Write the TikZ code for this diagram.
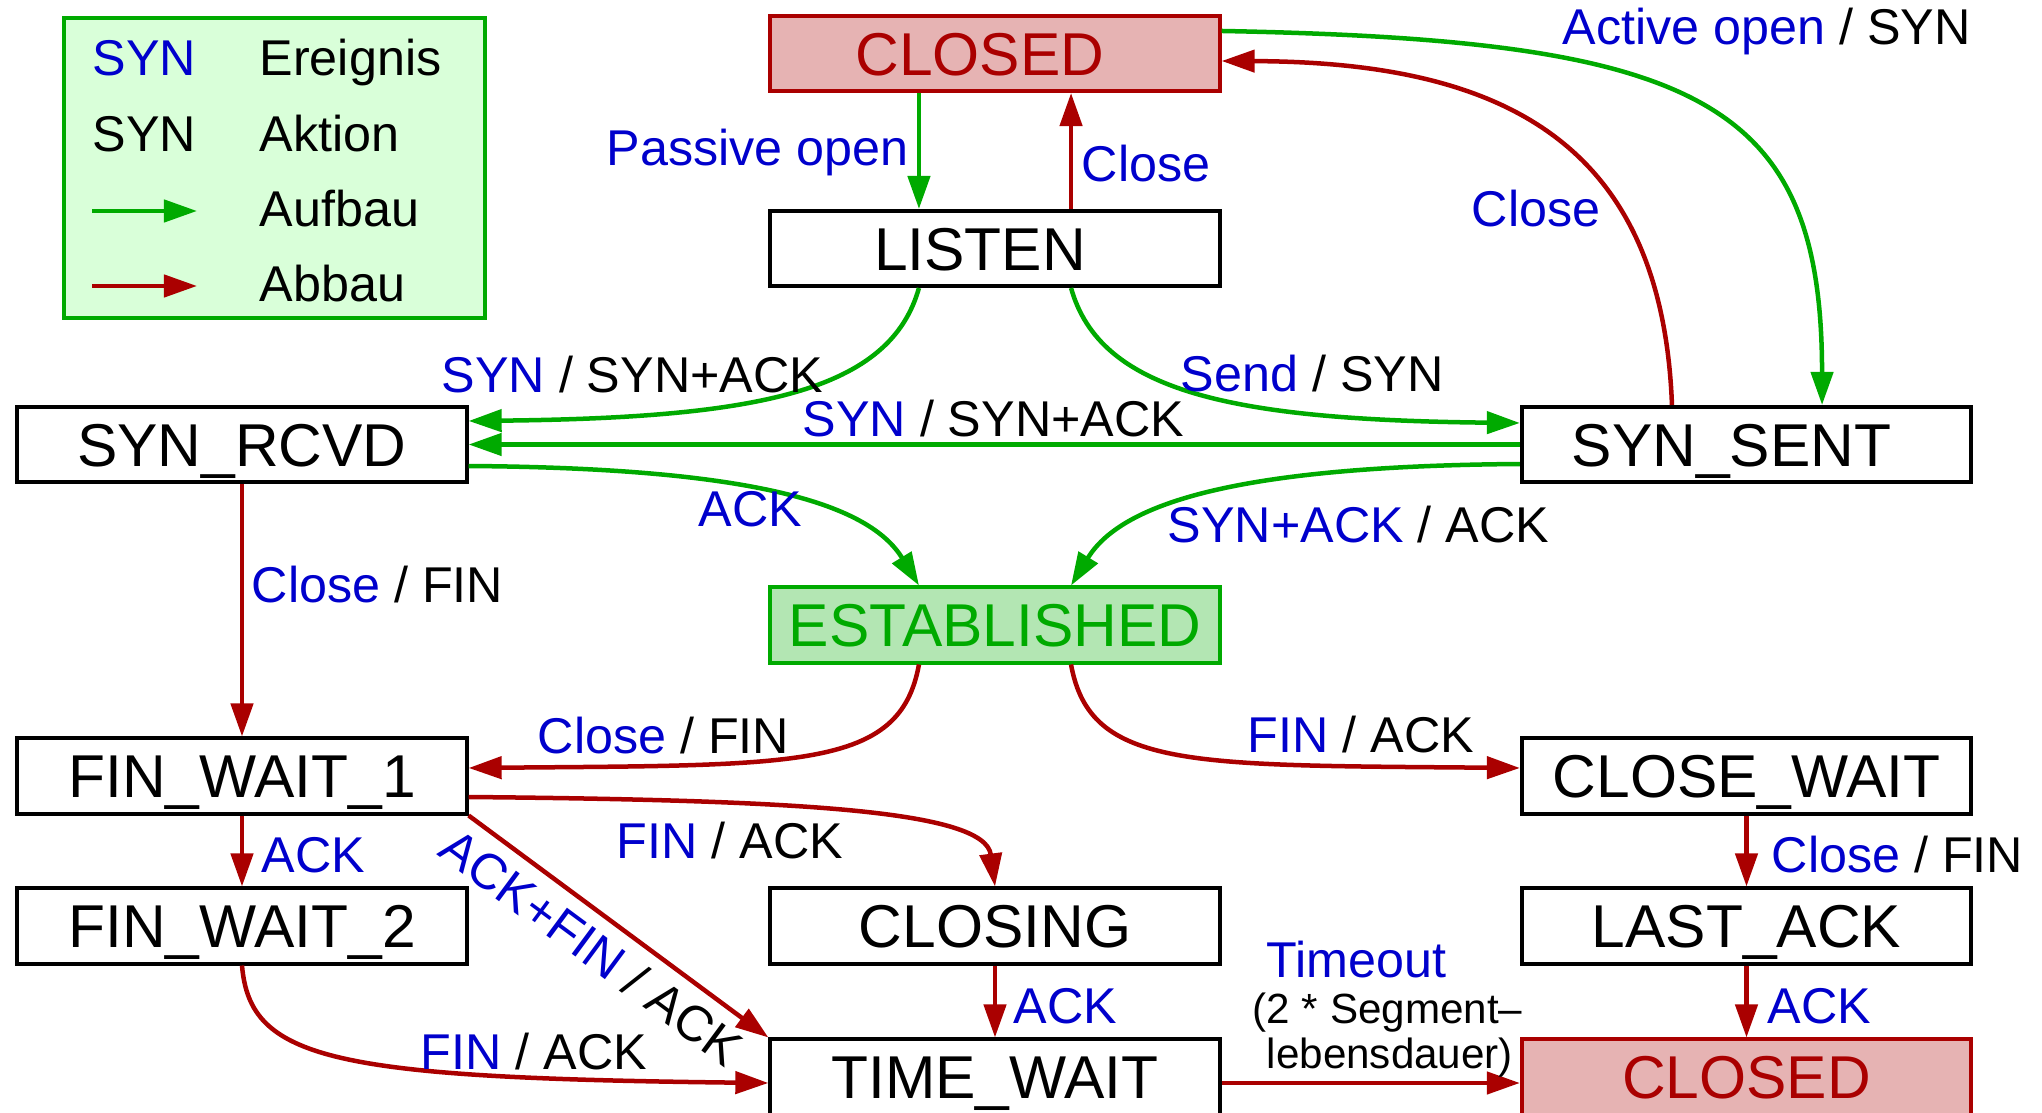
\documentclass[tikz,border=0pt]{standalone}
\usepackage{fontspec}
\setmainfont{Liberation Sans}
\usepackage{tikz}
\usetikzlibrary{arrows.meta}
\usepackage{xcolor}

\definecolor{evblue}{HTML}{0000CC}
\definecolor{upgreen}{HTML}{00AA00}
\definecolor{downred}{HTML}{AA0000}
\definecolor{closedfill}{HTML}{E6B3B3}
\definecolor{estfill}{HTML}{B3E6B3}
\definecolor{legendfill}{HTML}{D9FFD9}

\newcommand{\ev}[1]{\textcolor{evblue}{#1}}

\begin{document}
\begin{tikzpicture}[x=0.01cm, y=-0.01cm,
  state/.style={draw=black, line width=0.04cm, fill=white, minimum width=4.49cm, minimum height=0.75cm,
    inner sep=0pt, text height=0.434cm, text depth=0pt, font=\fontsize{17.2}{20}\selectfont},
  leftish/.style={execute at end node=\hspace*{0.3cm}},
  closedstate/.style={state, draw=downred, fill=closedfill, text=downred},
  eststate/.style={state, draw=upgreen, fill=estfill, text=upgreen},
  lblfont/.style={font=\fontsize{14.3}{17}\selectfont},
  lbl/.style={lblfont, anchor=base west, inner sep=0pt},
  smalllbl/.style={font=\fontsize{12}{13}\selectfont, anchor=base west, inner sep=0pt},
  aufbau/.style={upgreen, line width=0.045cm, -{Triangle[length=0.33cm, width=0.22cm]}},
  abbau/.style={downred, line width=0.045cm, -{Triangle[length=0.33cm, width=0.22cm]}}]

\useasboundingbox (0,0) rectangle (2042,1113);

% legend
\node[draw=upgreen, fill=legendfill, line width=0.04cm, minimum width=4.21cm, minimum height=3cm,
  inner sep=0pt, anchor=north west] (legend) at (62,16) {};
\node[lbl] (legsyna) at (92,76) {\ev{SYN}};
\node[lbl] (legevent) at (259,76) {Ereignis};
\node[lbl] (legsynb) at (92,152) {SYN};
\node[lbl] (legaction) at (259,152) {Aktion};
\coordinate (legupa) at (92,211);
\coordinate (legupb) at (197,211);
\draw[aufbau] (legupa) -- (legupb);
\node[lbl] (legup) at (259,227) {Aufbau};
\coordinate (legdowna) at (92,286);
\coordinate (legdownb) at (197,286);
\draw[abbau] (legdowna) -- (legdownb);
\node[lbl] (legdown) at (259,302) {Abbau};

% states
\node[closedstate, leftish] (closedtop) at (995,53.5) {CLOSED};
\node[state, leftish] (listen) at (995,248.5) {LISTEN};
\node[state] (synrcvd) at (242,444.5) {SYN\_RCVD};
\node[state, leftish] (synsent) at (1746.5,444.5) {SYN\_SENT};
\node[eststate] (established) at (995,625) {ESTABLISHED};
\node[state] (finwaitone) at (242,776) {FIN\_WAIT\_1};
\node[state] (closewait) at (1746.5,776) {CLOSE\_WAIT};
\node[state] (finwaittwo) at (242,926) {FIN\_WAIT\_2};
\node[state] (closing) at (995,926) {CLOSING};
\node[state] (lastack) at (1746.5,926) {LAST\_ACK};
\node[state] (timewait) at (995,1077) {TIME\_WAIT};
\node[closedstate] (closedbot) at (1746.5,1077) {CLOSED};

% Aufbau
\draw[aufbau] ([xshift=-0.76cm]closedtop.south) -- ([xshift=-0.76cm]listen.north);
\draw[aufbau] ([yshift=0.225cm]closedtop.east) .. controls +(478,9) and +(0,-305) .. ([xshift=0.755cm]synsent.north);
\draw[aufbau] ([xshift=-0.76cm]listen.south) .. controls +(-29,103) and +(291,-3) .. ([yshift=0.235cm]synrcvd.east);
\draw[aufbau] ([xshift=0.76cm]listen.south) .. controls +(29,103) and +(-291,-3) .. ([yshift=0.215cm]synsent.west);
\draw[aufbau] (synsent.west) -- (synrcvd.east);
\draw[aufbau] ([yshift=-0.215cm]synrcvd.east) .. controls +(291,2) and +(-49,-80) .. ([xshift=-0.76cm]established.north);
\draw[aufbau] ([yshift=-0.195cm]synsent.west) .. controls +(-291,2) and +(49,-80) .. ([xshift=0.76cm]established.north);

% Abbau
\draw[abbau] ([xshift=0.76cm]listen.north) -- ([xshift=0.76cm]closedtop.south);
\draw[abbau] ([xshift=-0.745cm]synsent.north) .. controls +(-10,-265) and +(278,1) .. ([yshift=-0.075cm]closedtop.east);
\draw[abbau] (synrcvd.south) -- (finwaitone.north);
\draw[abbau] ([xshift=-0.76cm]established.south) .. controls +(-19,105) and +(331,-3) .. ([yshift=0.08cm]finwaitone.east);
\draw[abbau] ([xshift=0.76cm]established.south) .. controls +(19,105) and +(-330,-3) .. ([yshift=0.08cm]closewait.west);
\draw[abbau] ([yshift=-0.21cm]finwaitone.east) .. controls +(331,3) and +(-10,-76) .. (closing.north);
\draw[abbau] (finwaitone.south) -- (finwaittwo.north);
\draw[abbau] (finwaitone.south east) -- node[lblfont, text=black, sloped, below, pos=0.475] (lackfin) {\ev{ACK+FIN} / ACK} (timewait.north west);
\draw[abbau] (finwaittwo.south) .. controls +(8,94) and +(-438,-5) .. ([yshift=-0.06cm]timewait.west);
\draw[abbau] (closing.south) -- (timewait.north);
\draw[abbau] ([yshift=-0.06cm]timewait.east) -- ([yshift=-0.06cm]closedbot.west);
\draw[abbau] (closewait.south) -- (lastack.north);
\draw[abbau] (lastack.south) -- (closedbot.north);

% labels
\node[lbl] (lpassive) at (606,166) {\ev{Passive open}};
\node[lbl] (lclosea) at (1081,182) {\ev{Close}};
\node[lbl] (lactive) at (1562,45) {\ev{Active open} / SYN};
\node[lbl] (lcloseb) at (1471,227) {\ev{Close}};
\node[lbl] (lsyna) at (441,393) {\ev{SYN} / SYN+ACK};
\node[lbl] (lsend) at (1180,392) {\ev{Send} / SYN};
\node[lbl] (lsynb) at (802,437) {\ev{SYN} / SYN+ACK};
\node[lbl] (lacka) at (698,527) {\ev{ACK}};
\node[lbl] (lsynack) at (1167,543) {\ev{SYN+ACK} / ACK};
\node[lbl] (lclosec) at (251,603) {\ev{Close} / FIN};
\node[lbl] (lclosed) at (537,754) {\ev{Close} / FIN};
\node[lbl] (lfina) at (1247,753) {\ev{FIN} / ACK};
\node[lbl] (lfinb) at (616,859) {\ev{FIN} / ACK};
\node[lbl] (lackb) at (261,873) {\ev{ACK}};
\node[lbl] (lfinc) at (420,1069) {\ev{FIN} / ACK};
\node[lbl] (lackc) at (1013,1023) {\ev{ACK}};
\node[lbl] (lclosee) at (1771,873) {\ev{Close} / FIN};
\node[lbl] (lackd) at (1767,1023) {\ev{ACK}};
\node[lbl] (ltimeout) at (1266,978) {\ev{Timeout}};
\node[smalllbl] (lsegment) at (1252,1023) {(2 * Segment–};
\node[smalllbl] (llifetime) at (1266,1068) {lebensdauer)};

\end{tikzpicture}
\end{document}
